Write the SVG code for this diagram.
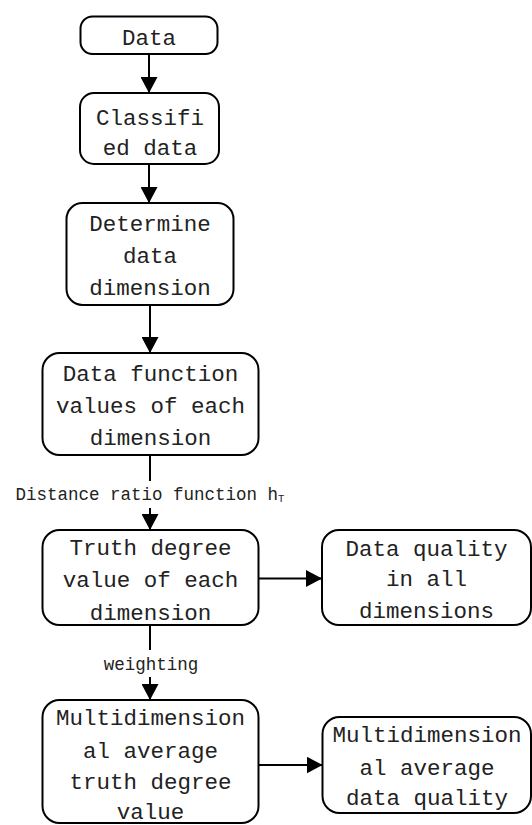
<svg xmlns="http://www.w3.org/2000/svg" width="532" height="825" viewBox="0 0 532 825">
<style>
.box{fill:#fff;stroke:#000;stroke-width:2}
.t{font-family:"Liberation Mono","DejaVu Sans Mono",monospace;font-size:22.5px;fill:#222;text-anchor:middle}
.lbl{font-family:"Liberation Mono","DejaVu Sans Mono",monospace;font-size:17.5px;fill:#222;text-anchor:middle}
.ln{stroke:#000;stroke-width:2;fill:none}
</style>
<defs>
<marker id="ah" markerWidth="16" markerHeight="17" refX="16" refY="8.5" orient="auto" markerUnits="userSpaceOnUse">
<path d="M0,0 L16,8.5 L0,17 Z" fill="#000"/>
</marker>
</defs>
<rect width="532" height="825" fill="#fff"/>
<g id="connectors">
<line class="ln" x1="149" y1="54" x2="149" y2="93" marker-end="url(#ah)"/>
<line class="ln" x1="149" y1="164" x2="149" y2="203" marker-end="url(#ah)"/>
<line class="ln" x1="150" y1="305" x2="150" y2="353" marker-end="url(#ah)"/>
<line class="ln" x1="150" y1="455" x2="150" y2="481"/>
<line class="ln" x1="150" y1="508" x2="150" y2="530" marker-end="url(#ah)"/>
<line class="ln" x1="258" y1="578.5" x2="322" y2="578.5" marker-end="url(#ah)"/>
<line class="ln" x1="150" y1="625" x2="150" y2="650"/>
<line class="ln" x1="150" y1="677" x2="150" y2="700" marker-end="url(#ah)"/>
<line class="ln" x1="258" y1="765" x2="322.5" y2="765" marker-end="url(#ah)"/>
<text class="lbl" x="150" y="499.7">Distance ratio function h<tspan font-size="10.5" dy="2">T</tspan></text>
<text class="lbl" x="151" y="670">weighting</text>
</g>
<g id="n1">
<rect class="box" x="80.5" y="16.5" width="137" height="37.5" rx="12"/>
<text class="t" x="149" y="45">Data</text>
</g>
<g id="n2">
<rect class="box" x="80" y="93" width="139" height="71" rx="14"/>
<text class="t" x="150" y="124.7">Classifi</text>
<text class="t" x="150" y="154.7">ed data</text>
</g>
<g id="n3">
<rect class="box" x="66.5" y="203" width="167" height="102" rx="16"/>
<text class="t" x="150" y="231.3">Determine</text>
<text class="t" x="150" y="263">data</text>
<text class="t" x="150" y="294.7">dimension</text>
</g>
<g id="n4">
<rect class="box" x="42.5" y="353" width="216" height="102" rx="17"/>
<text class="t" x="150.5" y="381.3">Data function</text>
<text class="t" x="150.5" y="413">values of each</text>
<text class="t" x="150.5" y="444.7">dimension</text>
</g>
<g id="n5">
<rect class="box" x="42.5" y="530" width="216" height="95" rx="17"/>
<text class="t" x="150.5" y="554.7">Truth degree</text>
<text class="t" x="150.5" y="587">value of each</text>
<text class="t" x="150.5" y="619.5">dimension</text>
</g>
<g id="n6">
<rect class="box" x="322" y="530" width="209" height="95" rx="17"/>
<text class="t" x="426.5" y="556.3">Data quality</text>
<text class="t" x="426.5" y="586.3">in all</text>
<text class="t" x="426.5" y="618">dimensions</text>
</g>
<g id="n7">
<rect class="box" x="42.5" y="700" width="216" height="123" rx="17"/>
<text class="t" x="150.5" y="724.7">Multidimension</text>
<text class="t" x="150.5" y="757.5">al average</text>
<text class="t" x="150.5" y="789">truth degree</text>
<text class="t" x="150.5" y="818.5">value</text>
</g>
<g id="n8">
<rect class="box" x="322.5" y="717" width="208.5" height="96" rx="17"/>
<text class="t" x="427" y="742.3">Multidimension</text>
<text class="t" x="427" y="774.5">al average</text>
<text class="t" x="427" y="805">data quality</text>
</g>
</svg>
